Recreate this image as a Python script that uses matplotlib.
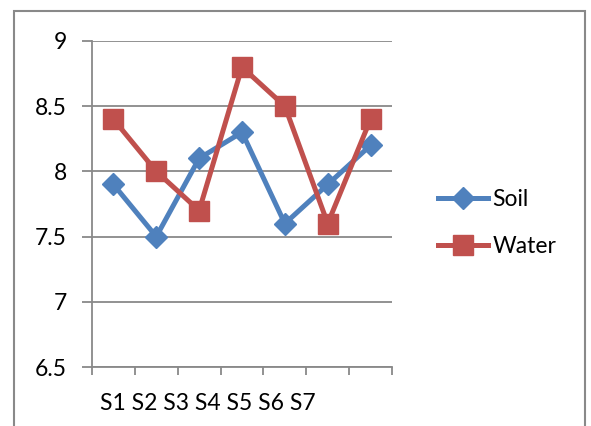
import matplotlib
matplotlib.use("Agg")
import matplotlib.pyplot as plt
from matplotlib.patches import Rectangle

plt.rcParams['font.family'] = ['Lato', 'DejaVu Sans']

# pH readings per site
sites = ["S1", "S2", "S3", "S4", "S5", "S6", "S7"]
soil = [7.9, 7.5, 8.1, 8.3, 7.6, 7.9, 8.2]
water = [8.4, 8.0, 7.7, 8.8, 8.5, 7.6, 8.4]
yticks = [6.5, 7, 7.5, 8, 8.5, 9]

blue = "#4F81BD"
red = "#C0504D"
grey = "#898989"
fs = 16.5

fig = plt.figure(figsize=(5.91, 4.26), dpi=100)
# outer chart border
fig.patches.append(Rectangle((14 / 591, -0.05), 571 / 591, 1.05 - 11 / 426,
                             transform=fig.transFigure, fill=False,
                             edgecolor=grey, lw=1.5))

ax = fig.add_axes([92 / 591, 1 - 367 / 426, 300 / 591, 326 / 426])
x = list(range(len(sites)))
ax.plot(x, soil, color=blue, lw=3.6, marker="D", markersize=11.5, label="Soil")
ax.plot(x, water, color=red, lw=3.6, marker="s", markersize=14.5, label="Water")

ax.set_xlim(-0.5, len(sites) - 0.5)
ax.set_ylim(6.5, 9)
ax.set_yticks(yticks)
ax.set_yticklabels(["%g" % v for v in yticks], fontsize=fs)
ax.yaxis.grid(True, color=grey, lw=1.3)
ax.set_axisbelow(True)

ax.set_xticks([i - 0.5 for i in range(len(sites) + 1)])
ax.set_xticklabels([])
ax.tick_params(axis="x", length=6, width=1.3, color=grey, direction="out")
ax.tick_params(axis="y", length=7, width=1.3, color=grey, pad=11)
for s in ["top", "right"]:
    ax.spines[s].set_visible(False)
for s in ["left", "bottom"]:
    ax.spines[s].set_color(grey)
    ax.spines[s].set_linewidth(1.3)

# category labels sit squeezed together under the axis
ax.text(8 / 300, -36 / 326, " ".join(sites), transform=ax.transAxes,
        ha="left", va="center", fontsize=fs)

fig.legend(loc="center left", bbox_to_anchor=(417 / 591, 1 - 223 / 426),
           frameon=False, fontsize=fs, handlelength=2.2, handletextpad=0.2,
           labelspacing=1.1)

fig.savefig("out.png", dpi=100)
